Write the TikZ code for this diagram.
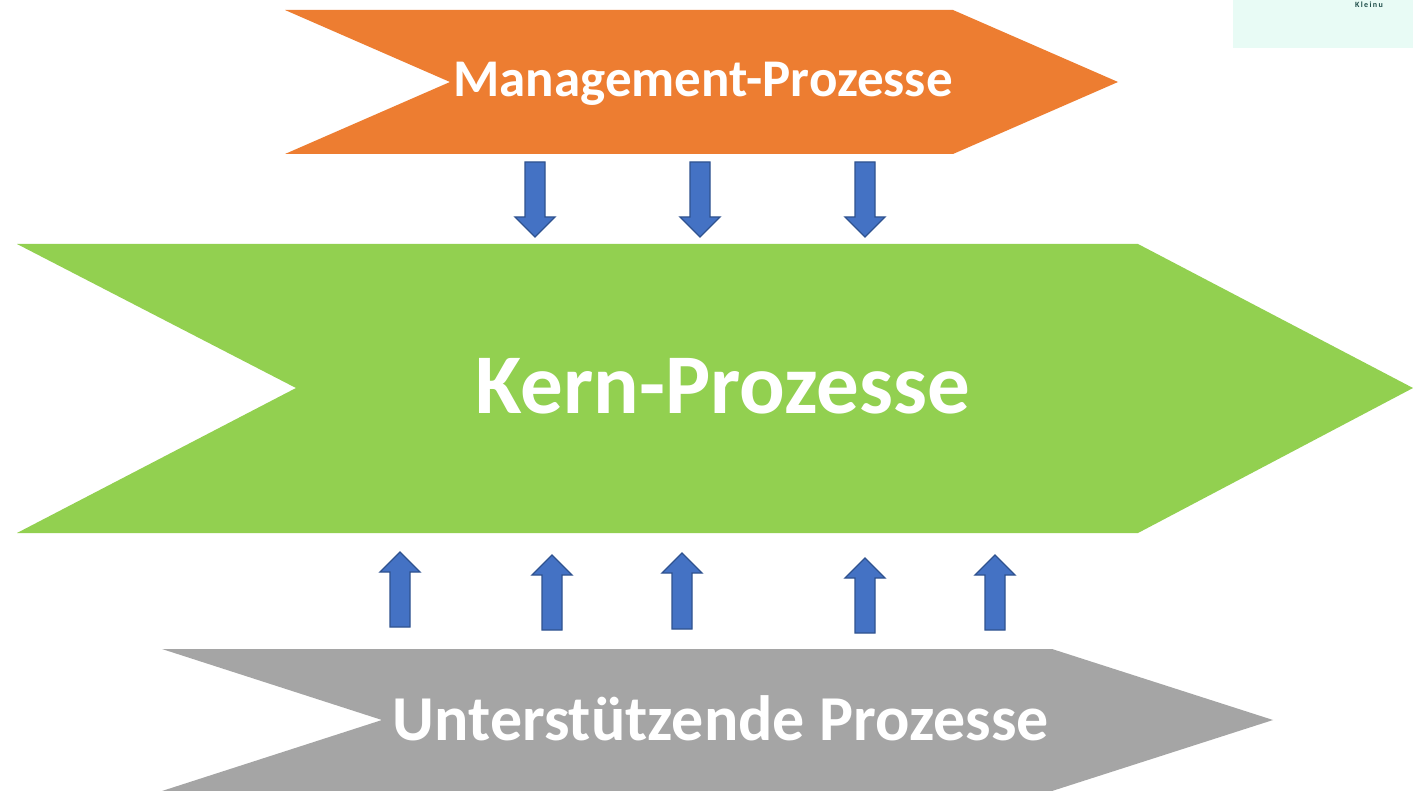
\documentclass[tikz,border=0pt]{standalone}
\usepackage{fontspec}
\setmainfont{Carlito}
\definecolor{orng}{HTML}{ED7D31}
\definecolor{grn}{HTML}{92D050}
\definecolor{gry}{HTML}{A5A5A5}
\definecolor{blu}{HTML}{4472C4}
\definecolor{bluedge}{HTML}{2F528F}
\definecolor{mint}{HTML}{E8FBF5}
\definecolor{tealtxt}{HTML}{1F4E4A}
\tikzset{
  lbl/.style={text=white, font=\bfseries, anchor=base, inner sep=0pt},
  blockarrow/.style={fill=blu, draw=bluedge, line width=1.3pt, line join=miter},
}
% down arrow: #1 = x, #2 = top y, #3 = tip y
\newcommand{\downarr}[3]{%
  \draw[blockarrow] (#1-10,#2) -- (#1+10,#2) -- (#1+10,#3-20) -- (#1+20,#3-20) -- (#1,#3) -- (#1-20,#3-20) -- (#1-10,#3-20) -- cycle;}
\newcommand{\uparr}[3]{%
  \draw[blockarrow] (#1-10,#2) -- (#1+10,#2) -- (#1+10,#3+20) -- (#1+20,#3+20) -- (#1,#3) -- (#1-20,#3+20) -- (#1-10,#3+20) -- cycle;}
\begin{document}
\begin{tikzpicture}[x=1pt,y=-1pt]
\useasboundingbox (0,0) rectangle (1413,791);
\fill[white] (0,0) rectangle (1413,791);
% top-right corner remnant
\fill[mint] (1233,0) rectangle (1413,48);
\node[text=tealtxt, font=\bfseries\fontsize{8}{8}\selectfont, anchor=base west, inner sep=0pt] (corner) at (1355,8) {K\,l\,e\,i\,n\,u};
% chevrons
\fill[orng] (285,10) -- (953,10) -- (1118,82) -- (953,154) -- (285,154) -- (450,82) -- cycle;
\fill[grn] (17,244) -- (1138,244) -- (1413,388) -- (1138,533) -- (17,533) -- (296,388) -- cycle;
\fill[gry] (162,649) -- (1052,649) -- (1273,720) -- (1052,791) -- (162,791) -- (382,720) -- cycle;
% labels
\node[lbl, font=\bfseries\fontsize{53}{53}\selectfont] (mgmt) at (703,97) {Management-Prozesse};
\node[lbl, font=\bfseries\fontsize{85}{85}\selectfont] (kern) at (723,413) {Kern-Prozesse};
\node[lbl, font=\bfseries\fontsize{64}{64}\selectfont] (unter) at (721,740) {Unterstützende Prozesse};
% down arrows
\downarr{535}{162}{237}
\downarr{700}{162}{237}
\downarr{865}{162}{237}
% up arrows
\uparr{400}{627}{552}
\uparr{552}{630}{555}
\uparr{682}{629}{553}
\uparr{865}{633}{558}
\uparr{995}{630}{555}
\end{tikzpicture}
\end{document}
